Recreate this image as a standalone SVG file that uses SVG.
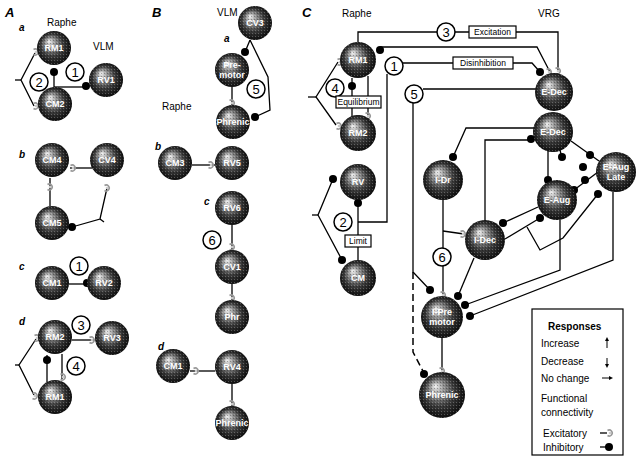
<svg xmlns="http://www.w3.org/2000/svg" width="636" height="467" viewBox="0 0 636 467">
<style>
text{font-family:"Liberation Sans",Arial,sans-serif;fill:#000}
.t{font-size:13px;font-weight:bold;font-style:italic}
.s{font-size:10px;font-style:italic;font-weight:bold}
.h{font-size:10px}
.lb{font-size:9px;fill:#fff;text-anchor:middle;font-weight:bold}
.ln{stroke:#000;stroke-width:1.3;fill:none}
.dash{stroke:#000;stroke-width:1.5;fill:none;stroke-dasharray:7 4}
.nc{fill:#fff;stroke:#000;stroke-width:1.5}
.nt{font-size:13px;text-anchor:middle}
.bx{fill:#fff;stroke:#000;stroke-width:1.2}
.bt{font-size:8.5px;text-anchor:middle}
.lg{font-size:10px}
</style>
<defs>
<radialGradient id="sph" cx="0.5" cy="0.5" r="0.55" fx="0.35" fy="0.3">
<stop offset="0" stop-color="#f4f4f4"/>
<stop offset="0.25" stop-color="#9a9a9a"/>
<stop offset="0.6" stop-color="#3a3a3a"/>
<stop offset="1" stop-color="#050505"/>
</radialGradient>
<pattern id="tex" width="3" height="3" patternUnits="userSpaceOnUse">
<rect width="1" height="1" fill="#fff" fill-opacity="0.25"/>
<rect x="2" y="1" width="1" height="1" fill="#000" fill-opacity="0.3"/>
</pattern>
<g id="ex"><path d="M-2.5,-2.5 A3,3 0 1 1 -2.5,2.5" fill="none" stroke="#999" stroke-width="1.6"/><circle r="1.3" fill="#ccc"/></g>
<circle id="in" r="4" fill="#000"/>
</defs>
<rect width="636" height="467" fill="#fff"/>

<!-- titles -->
<text class="t" x="5" y="17">A</text>
<text class="s" x="19" y="31">a</text>
<text class="h" x="47" y="26">Raphe</text>
<text class="h" x="93" y="50">VLM</text>
<text class="s" x="19" y="158">b</text>
<text class="s" x="19" y="270">c</text>
<text class="s" x="19" y="325">d</text>
<text class="t" x="152" y="17">B</text>
<text class="h" x="217" y="16">VLM</text>
<text class="s" x="224" y="42">a</text>
<text class="h" x="162" y="110">Raphe</text>
<text class="s" x="155" y="150">b</text>
<text class="s" x="204" y="205">c</text>
<text class="s" x="158" y="350">d</text>
<text class="t" x="302" y="17">C</text>
<text class="h" x="342" y="17">Raphe</text>
<text class="h" x="538" y="17">VRG</text>

<g id="connectors">
<!-- A a -->
<polyline class="ln" points="35,53 21,80 34,106"/>
<line class="ln" x1="15" y1="80" x2="21" y2="80"/>
<line class="ln" x1="54" y1="72" x2="54" y2="89"/>
<line class="ln" x1="54" y1="87" x2="86" y2="87"/>
<use href="#ex" x="36" y="52"/><use href="#ex" x="36" y="106"/>
<use href="#in" x="54" y="72"/><use href="#in" x="86" y="86"/>
<!-- A b -->
<line class="ln" x1="70" y1="168" x2="92" y2="168"/>
<line class="ln" x1="50" y1="178" x2="50" y2="206"/>
<polyline class="ln" points="107,188 100,219 72,227"/>
<line class="ln" x1="100" y1="219" x2="104" y2="222"/>
<use href="#ex" x="73" y="168"/><use href="#ex" x="50" y="187"/><use href="#ex" x="107" y="188"/>
<use href="#in" x="72" y="227"/>
<!-- A c -->
<line class="ln" x1="69" y1="284" x2="88" y2="284"/>
<use href="#in" x="87" y="283"/>
<!-- A d -->
<line class="ln" x1="72" y1="340" x2="95" y2="340"/>
<line class="ln" x1="47" y1="355" x2="47" y2="382"/>
<line class="ln" x1="62" y1="354" x2="62" y2="379"/>
<polyline class="ln" points="36,339 19,365 34,395"/>
<line class="ln" x1="15" y1="365" x2="19" y2="365"/>
<use href="#ex" x="92" y="340"/><use href="#ex" x="63" y="377"/><use href="#ex" x="37" y="338"/><use href="#ex" x="35" y="396"/>
<use href="#in" x="47" y="360"/>
<!-- B a -->
<line class="ln" x1="250" y1="40" x2="245" y2="52"/>
<polyline class="ln" points="250,40 268,77 270,110 255,117"/>
<line class="ln" x1="232" y1="87" x2="232" y2="105"/>
<use href="#in" x="245" y="52"/><use href="#in" x="255" y="117"/>
<use href="#ex" x="232" y="103"/>
<!-- B b -->
<line class="ln" x1="192" y1="165" x2="215" y2="165"/>
<use href="#ex" x="211" y="165"/>
<!-- B c -->
<line class="ln" x1="232" y1="225" x2="232" y2="250"/>
<line class="ln" x1="232" y1="284" x2="232" y2="300"/>
<use href="#ex" x="232" y="247"/><use href="#ex" x="232" y="298"/>
<!-- B d -->
<line class="ln" x1="190" y1="371" x2="215" y2="371"/>
<line class="ln" x1="232" y1="384" x2="232" y2="406"/>
<use href="#ex" x="196" y="371"/><use href="#ex" x="232" y="404"/>
<!-- C raphe -->
<polyline class="ln" points="358,42 358,32 558,32 558,70"/>
<polyline class="ln" points="380,47 537,47 550,72"/>
<polyline class="ln" points="403,63 532,63 540,72"/>
<polyline class="ln" points="387,74 387,222 358,222"/>
<polyline class="ln" points="423,89 536,89"/>
<polyline class="ln" points="413,103 413,272 430,290"/>
<polyline class="dash" points="413,272 413,352 424,373"/>
<line class="ln" x1="352" y1="78" x2="352" y2="117"/>
<line class="ln" x1="368" y1="76" x2="368" y2="116"/>
<polyline class="ln" points="338,62 316,97 336,125"/>
<line class="ln" x1="308" y1="97" x2="316" y2="97"/>
<polyline class="ln" points="333,179 318,215 342,260"/>
<line class="ln" x1="312" y1="215" x2="318" y2="215"/>
<line class="ln" x1="358" y1="203" x2="358" y2="262"/>
<use href="#ex" x="558" y="71"/><use href="#ex" x="549" y="72"/>
<use href="#in" x="380" y="50"/><use href="#in" x="540" y="72"/>
<use href="#in" x="430" y="290"/><use href="#in" x="424" y="374"/>
<use href="#in" x="352" y="86"/><use href="#ex" x="368" y="116"/>
<use href="#ex" x="340" y="62"/><use href="#ex" x="339" y="126"/>
<use href="#in" x="333" y="179"/><use href="#in" x="342" y="260"/>
<use href="#in" x="358" y="203"/>
<!-- VRG -->
<polyline class="ln" points="453,157 466,128 535,128"/>
<polyline class="ln" points="531,140 485,140 485,221"/>
<line class="ln" x1="443" y1="200" x2="443" y2="296"/>
<line class="ln" x1="443" y1="231" x2="464" y2="234"/>
<line class="ln" x1="474" y1="258" x2="458" y2="296"/>
<line class="ln" x1="503" y1="223" x2="538" y2="207"/>
<line class="ln" x1="505" y1="239" x2="540" y2="218"/>
<polyline class="ln" points="560,220 560,270 465,305"/>
<polyline class="ln" points="613,192 613,260 470,316"/>
<polyline class="ln" points="598,194 563,238 540,250 527,227"/>
<line class="ln" x1="548" y1="150" x2="548" y2="180"/>
<line class="ln" x1="560" y1="150" x2="562" y2="158"/>
<line class="ln" x1="571" y1="141" x2="599" y2="161"/>
<line class="ln" x1="574" y1="190" x2="598" y2="172"/>
<line class="ln" x1="442" y1="338" x2="442" y2="372"/>
<use href="#in" x="453" y="157"/><use href="#in" x="531" y="139"/>
<use href="#ex" x="443" y="295"/><use href="#ex" x="463" y="234"/>
<use href="#in" x="458" y="296"/><use href="#in" x="503" y="223"/><use href="#in" x="540" y="218"/>
<use href="#in" x="465" y="305"/><use href="#in" x="470" y="316"/><use href="#in" x="598" y="194"/>
<use href="#in" x="548" y="180"/><use href="#in" x="562" y="157"/><use href="#in" x="590" y="155"/>
<use href="#in" x="574" y="190"/><use href="#in" x="585" y="180"/><use href="#in" x="583" y="167"/>
<use href="#ex" x="442" y="371"/>
</g>

<!-- nodes -->
<g id="A_RM1"><circle cx="54" cy="48" r="17" fill="url(#sph)"/><circle cx="54" cy="48" r="17" fill="url(#tex)"/><text class="lb" x="54" y="51">RM1</text></g>
<g id="A_RV1"><circle cx="106" cy="80" r="17" fill="url(#sph)"/><circle cx="106" cy="80" r="17" fill="url(#tex)"/><text class="lb" x="106" y="83">RV1</text></g>
<g id="A_CM2"><circle cx="55" cy="104" r="17" fill="url(#sph)"/><circle cx="55" cy="104" r="17" fill="url(#tex)"/><text class="lb" x="55" y="107">CM2</text></g>
<g id="A_CM4"><circle cx="52" cy="160" r="17" fill="url(#sph)"/><circle cx="52" cy="160" r="17" fill="url(#tex)"/><text class="lb" x="52" y="163">CM4</text></g>
<g id="A_CV4"><circle cx="107" cy="160" r="17" fill="url(#sph)"/><circle cx="107" cy="160" r="17" fill="url(#tex)"/><text class="lb" x="107" y="163">CV4</text></g>
<g id="A_CM5"><circle cx="52" cy="223" r="17" fill="url(#sph)"/><circle cx="52" cy="223" r="17" fill="url(#tex)"/><text class="lb" x="52" y="226">CM5</text></g>
<g id="A_CM1"><circle cx="52" cy="283" r="17" fill="url(#sph)"/><circle cx="52" cy="283" r="17" fill="url(#tex)"/><text class="lb" x="52" y="286">CM1</text></g>
<g id="A_RV2"><circle cx="104" cy="283" r="17" fill="url(#sph)"/><circle cx="104" cy="283" r="17" fill="url(#tex)"/><text class="lb" x="104" y="286">RV2</text></g>
<g id="A_RM2"><circle cx="55" cy="337" r="17" fill="url(#sph)"/><circle cx="55" cy="337" r="17" fill="url(#tex)"/><text class="lb" x="55" y="340">RM2</text></g>
<g id="A_RV3"><circle cx="112" cy="338" r="17" fill="url(#sph)"/><circle cx="112" cy="338" r="17" fill="url(#tex)"/><text class="lb" x="112" y="341">RV3</text></g>
<g id="A_RM1d"><circle cx="55" cy="397" r="17" fill="url(#sph)"/><circle cx="55" cy="397" r="17" fill="url(#tex)"/><text class="lb" x="55" y="400">RM1</text></g>

<g id="B_CV3"><circle cx="255" cy="23" r="17" fill="url(#sph)"/><circle cx="255" cy="23" r="17" fill="url(#tex)"/><text class="lb" x="255" y="26">CV3</text></g>
<g id="B_Pre"><circle cx="232" cy="70" r="17" fill="url(#sph)"/><circle cx="232" cy="70" r="17" fill="url(#tex)"/><text class="lb" x="232" y="68">Pre-</text><text class="lb" x="232" y="78">motor</text></g>
<g id="B_Phr"><circle cx="233" cy="122" r="17" fill="url(#sph)"/><circle cx="233" cy="122" r="17" fill="url(#tex)"/><text class="lb" x="233" y="125">Phrenic</text></g>
<g id="B_CM3"><circle cx="175" cy="163" r="17" fill="url(#sph)"/><circle cx="175" cy="163" r="17" fill="url(#tex)"/><text class="lb" x="175" y="166">CM3</text></g>
<g id="B_RV5"><circle cx="232" cy="163" r="17" fill="url(#sph)"/><circle cx="232" cy="163" r="17" fill="url(#tex)"/><text class="lb" x="232" y="166">RV5</text></g>
<g id="B_RV6"><circle cx="232" cy="208" r="17" fill="url(#sph)"/><circle cx="232" cy="208" r="17" fill="url(#tex)"/><text class="lb" x="232" y="211">RV6</text></g>
<g id="B_CV1"><circle cx="232" cy="267" r="17" fill="url(#sph)"/><circle cx="232" cy="267" r="17" fill="url(#tex)"/><text class="lb" x="232" y="270">CV1</text></g>
<g id="B_Phr2"><circle cx="232" cy="317" r="17" fill="url(#sph)"/><circle cx="232" cy="317" r="17" fill="url(#tex)"/><text class="lb" x="232" y="320">Phr</text></g>
<g id="B_CM1"><circle cx="173" cy="366" r="17" fill="url(#sph)"/><circle cx="173" cy="366" r="17" fill="url(#tex)"/><text class="lb" x="173" y="369">CM1</text></g>
<g id="B_RV4"><circle cx="232" cy="367" r="17" fill="url(#sph)"/><circle cx="232" cy="367" r="17" fill="url(#tex)"/><text class="lb" x="232" y="370">RV4</text></g>
<g id="B_Phr3"><circle cx="232" cy="423" r="17" fill="url(#sph)"/><circle cx="232" cy="423" r="17" fill="url(#tex)"/><text class="lb" x="232" y="426">Phrenic</text></g>

<g id="C_RM1"><circle cx="358" cy="60" r="18" fill="url(#sph)"/><circle cx="358" cy="60" r="18" fill="url(#tex)"/><text class="lb" x="358" y="63">RM1</text></g>
<g id="C_RM2"><circle cx="358" cy="133" r="18" fill="url(#sph)"/><circle cx="358" cy="133" r="18" fill="url(#tex)"/><text class="lb" x="358" y="136">RM2</text></g>
<g id="C_RV"><circle cx="358" cy="182" r="18" fill="url(#sph)"/><circle cx="358" cy="182" r="18" fill="url(#tex)"/><text class="lb" x="358" y="185">RV</text></g>
<g id="C_CM"><circle cx="358" cy="278" r="18" fill="url(#sph)"/><circle cx="358" cy="278" r="18" fill="url(#tex)"/><text class="lb" x="358" y="281">CM</text></g>

<g id="C_EDec1"><circle cx="554" cy="92" r="19" fill="url(#sph)"/><circle cx="554" cy="92" r="19" fill="url(#tex)"/><text class="lb" x="554" y="95">E-Dec</text></g>
<g id="C_EDec2"><circle cx="553" cy="132" r="20" fill="url(#sph)"/><circle cx="553" cy="132" r="20" fill="url(#tex)"/><text class="lb" x="553" y="135">E-Dec</text></g>
<g id="C_EAugL"><circle cx="616" cy="172" r="20" fill="url(#sph)"/><circle cx="616" cy="172" r="20" fill="url(#tex)"/><text class="lb" x="616" y="170">E-Aug</text><text class="lb" x="616" y="180">Late</text></g>
<g id="C_EAug"><circle cx="557" cy="200" r="20" fill="url(#sph)"/><circle cx="557" cy="200" r="20" fill="url(#tex)"/><text class="lb" x="557" y="203">E-Aug</text></g>
<g id="C_IDr"><circle cx="443" cy="180" r="20" fill="url(#sph)"/><circle cx="443" cy="180" r="20" fill="url(#tex)"/><text class="lb" x="443" y="183">I-Dr</text></g>
<g id="C_IDec"><circle cx="485" cy="240" r="20" fill="url(#sph)"/><circle cx="485" cy="240" r="20" fill="url(#tex)"/><text class="lb" x="485" y="243">I-Dec</text></g>
<g id="C_IPre"><circle cx="442" cy="317" r="21" fill="url(#sph)"/><circle cx="442" cy="317" r="21" fill="url(#tex)"/><text class="lb" x="442" y="315">I-Pre</text><text class="lb" x="442" y="325">motor</text></g>
<g id="C_Phr"><circle cx="442" cy="395" r="23" fill="url(#sph)"/><circle cx="442" cy="395" r="23" fill="url(#tex)"/><text class="lb" x="442" y="398">Phrenic</text></g>

<!-- numbered circles -->
<g id="num">
<circle class="nc" cx="75" cy="72" r="9"/><text class="nt" x="75" y="77">1</text>
<circle class="nc" cx="39" cy="82" r="9"/><text class="nt" x="39" y="87">2</text>
<circle class="nc" cx="79" cy="266" r="9"/><text class="nt" x="79" y="271">1</text>
<circle class="nc" cx="81" cy="325" r="9"/><text class="nt" x="81" y="330">3</text>
<circle class="nc" cx="76" cy="366" r="9"/><text class="nt" x="76" y="371">4</text>
<circle class="nc" cx="256" cy="89" r="9"/><text class="nt" x="256" y="94">5</text>
<circle class="nc" cx="212" cy="240" r="9"/><text class="nt" x="212" y="245">6</text>
<circle class="nc" cx="446" cy="32" r="9"/><text class="nt" x="446" y="37">3</text>
<circle class="nc" cx="394" cy="66" r="9"/><text class="nt" x="394" y="71">1</text>
<circle class="nc" cx="414" cy="94" r="9"/><text class="nt" x="414" y="99">5</text>
<circle class="nc" cx="335" cy="88" r="9"/><text class="nt" x="335" y="93">4</text>
<circle class="nc" cx="343" cy="222" r="9"/><text class="nt" x="343" y="227">2</text>
<circle class="nc" cx="442" cy="257" r="9"/><text class="nt" x="442" y="262">6</text>
</g>

<!-- label boxes -->
<g id="boxes">
<rect class="bx" x="469" y="26" width="47" height="12"/><text class="bt" x="492.5" y="35">Excitation</text>
<rect class="bx" x="453" y="57" width="60" height="12"/><text class="bt" x="483" y="66">Disinhibition</text>
<rect class="bx" x="336" y="96" width="45" height="12"/><text class="bt" x="358.5" y="105">Equilibrium</text>
<rect class="bx" x="345" y="235" width="26" height="12"/><text class="bt" x="358" y="244">Limit</text>
</g>

<!-- legend -->
<g id="legend">
<rect x="532" y="309" width="91" height="146" fill="#fff" stroke="#000" stroke-width="1.2"/>
<text class="lg" x="548" y="330" font-weight="bold">Responses</text>
<text class="lg" x="541" y="347">Increase</text>
<text class="lg" x="541" y="365">Decrease</text>
<text class="lg" x="541" y="382">No change</text>
<line x1="607" y1="348" x2="607" y2="340" stroke="#000" stroke-width="1"/><path d="M605,341 L607,337 L609,341 Z" fill="#000"/>
<line x1="607" y1="358" x2="607" y2="365" stroke="#000" stroke-width="1"/><path d="M605,364 L607,368 L609,364 Z" fill="#000"/>
<line x1="602" y1="378" x2="610" y2="378" stroke="#000" stroke-width="1"/><path d="M609,376 L613,378 L609,380 Z" fill="#000"/>
<text class="lg" x="541" y="402">Functional</text>
<text class="lg" x="541" y="416">connectivity</text>
<text class="lg" x="543" y="437">Excitatory</text>
<text class="lg" x="543" y="451">Inhibitory</text>
<line x1="600" y1="433" x2="607" y2="433" stroke="#000" stroke-width="1.3"/><use href="#ex" x="610" y="433"/>
<line x1="600" y1="447" x2="607" y2="447" stroke="#000" stroke-width="1.3"/><use href="#in" x="609" y="447"/>
</g>
</svg>
